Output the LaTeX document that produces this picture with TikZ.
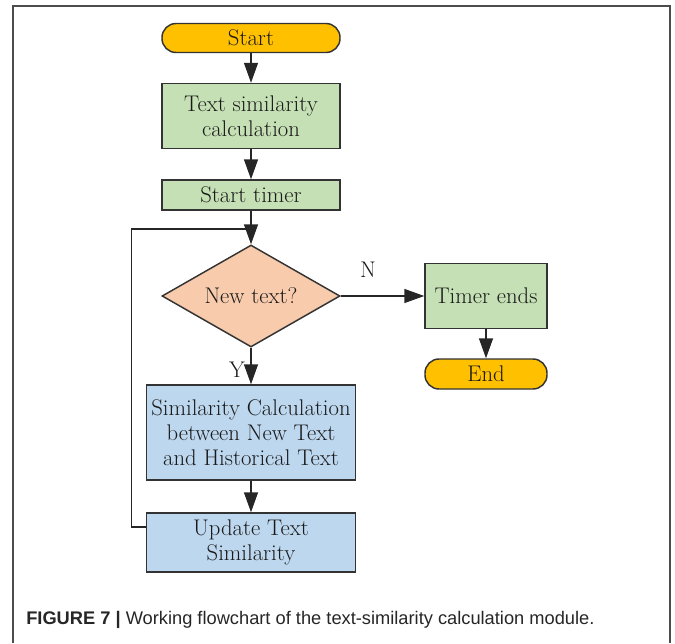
\documentclass[tikz,border=0pt]{standalone}
\usepackage{fontspec}
\setsansfont{Liberation Sans}
\usetikzlibrary{arrows.meta,shapes.geometric}
\definecolor{startc}{HTML}{FFC000}
\definecolor{greenc}{HTML}{C5E0B4}
\definecolor{diamc}{HTML}{F8CBAD}
\definecolor{bluec}{HTML}{BDD7EE}
\definecolor{edgec}{HTML}{333333}
\definecolor{txtc}{HTML}{1A1A1A}
\tikzset{
  base/.style={draw=edgec, line width=1.1pt, text=txtc, align=center, inner sep=2pt,
    font=\fontsize{17}{18.75}\selectfont},
  term/.style={base, fill=startc, rounded corners=10.5pt},
  greenbox/.style={base, fill=greenc},
  bluebox/.style={base, fill=bluec},
  decide/.style={base, fill=diamc, diamond, inner sep=0pt},
  conn/.style={draw=black!85, line width=1.1pt, -{Triangle[length=15pt,width=10.5pt]}},
  plainline/.style={draw=black!85, line width=1.1pt},
  lbl/.style={text=txtc, font=\fontsize{17}{18.75}\selectfont, inner sep=0pt}
}
\begin{document}
\begin{tikzpicture}[x=0.75pt,y=-0.75pt]
\useasboundingbox (0,0) rectangle (675,643);
% frame
\draw[black!70, line width=1pt] (13,643) -- (13,6) -- (670,6) -- (670,643);
% nodes
\node[term, minimum width=133.5pt, minimum height=21.75pt] (start) at (251,38) {Start};
\node[greenbox, minimum width=133.5pt, minimum height=48.75pt] (calc) at (251,116) {Text similarity\\calculation};
\node[greenbox, minimum width=133.5pt, minimum height=22.5pt] (timer) at (251,195) {Start timer};
\node[decide, minimum width=133.5pt, minimum height=76.5pt] (new) at (251,296) {\makebox[0pt]{New text?}};
\node[greenbox, minimum width=91.5pt, minimum height=48.75pt] (tend) at (486,296) {Timer ends};
\node[term, minimum width=91.5pt, minimum height=22.5pt] (end) at (486,374) {End};
\node[bluebox, minimum width=156.75pt, minimum height=71.25pt] (sim) at (251,432.5) {Similarity Calculation\\between New Text\\and Historical Text};
\node[bluebox, minimum width=156.75pt, minimum height=44.25pt] (upd) at (251,542.5) {Update Text\\Similarity};
% connectors
\draw[conn] (start) -- (calc);
\draw[conn] (calc) -- (timer);
\draw[conn] (timer) -- (new);
\draw[conn] (new) -- (tend);
\draw[conn] (tend) -- (end);
\draw[conn] (new) -- (sim);
\draw[conn] (sim) -- (upd);
\coordinate (lb) at (131.5,527);
\coordinate (lt) at (131.5,229);
\coordinate (lj) at (251,229);
\draw[plainline] (upd.west |- lb) -- (lb) -- (lt) -- (lj);
% labels
\node[lbl] (nl) at (368,270) {N};
\node[lbl] (yl) at (237,370) {Y};
% caption
\node[anchor=west, inner sep=0pt, text=black!85, font=\sffamily\fontsize{13.7}{16}\selectfont] (cap) at (26,620)
  {\textbf{FIGURE 7 |} Working flowchart of the text-similarity calculation module.};
\end{tikzpicture}
\end{document}
